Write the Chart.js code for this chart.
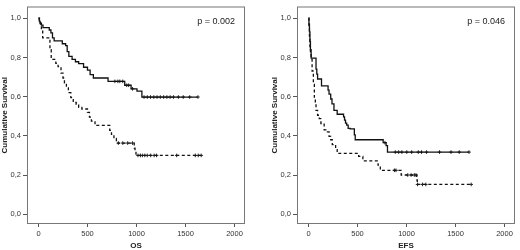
<!DOCTYPE html>
<html>
<head>
<meta charset="utf-8">
<script src="https://cdn.jsdelivr.net/npm/chart.js"></script>
<style>
  body { margin: 0; background: #fff; }
  canvas { position: absolute; top: 0; }
</style>
</head>
<body>
<canvas id="osChart" width="250" height="250" style="left:0"></canvas>
<canvas id="efsChart" width="250" height="250" style="left:270px"></canvas>
<script>
// tick labels
const xTicks = [0, 500, 1000, 1500, 2000];
const yTicks = [0, 0.2, 0.4, 0.6, 0.8, 1.0];

// OS - solid group
const osSolidT = [0, 8, 15, 30, 46, 110, 127, 143, 160, 243, 277, 293, 310, 343, 377, 410, 460, 500, 527, 560, 710, 880, 945, 1005, 1055];
const osSolidS = [1.0, 0.985, 0.975, 0.965, 0.952, 0.94, 0.925, 0.9, 0.885, 0.87, 0.86, 0.83, 0.805, 0.79, 0.778, 0.768, 0.75, 0.735, 0.712, 0.695, 0.678, 0.658, 0.64, 0.628, 0.598];
const osSolidCens = [780, 810, 830, 860, 900, 920, 960, 1077, 1110, 1143, 1177, 1210, 1243, 1277, 1310, 1343, 1377, 1427, 1477, 1543, 1627];

// OS - dashed group
const osDashT = [0, 10, 20, 30, 43, 117, 130, 177, 200, 230, 250, 265, 285, 305, 330, 355, 385, 410, 443, 500, 520, 540, 577, 727, 745, 770, 795, 977, 985, 995];
const osDashS = [1.0, 0.98, 0.96, 0.94, 0.9, 0.84, 0.79, 0.77, 0.753, 0.72, 0.695, 0.67, 0.645, 0.62, 0.595, 0.57, 0.56, 0.545, 0.537, 0.52, 0.495, 0.475, 0.453, 0.428, 0.407, 0.387, 0.363, 0.337, 0.32, 0.30];
const osDashCens = [815, 860, 910, 960, 1015, 1040, 1060, 1085, 1110, 1145, 1180, 1205, 1410, 1600, 1630, 1660];

// EFS - solid group
const efsSolidT = [0, 5, 10, 15, 20, 27, 77, 85, 93, 133, 200, 210, 227, 240, 260, 293, 358, 368, 378, 390, 405, 425, 468, 477, 762, 792, 806];
const efsSolidS = [1.0, 0.97, 0.93, 0.88, 0.84, 0.797, 0.74, 0.715, 0.69, 0.655, 0.633, 0.613, 0.588, 0.563, 0.53, 0.51, 0.497, 0.48, 0.465, 0.455, 0.438, 0.435, 0.405, 0.38, 0.365, 0.35, 0.317];
const efsSolidCens = [780, 886, 920, 953, 1003, 1053, 1120, 1153, 1204, 1337, 1454, 1538, 1638];

// EFS - dashed group
const efsDashT = [0, 5, 10, 15, 20, 27, 37, 50, 60, 70, 77, 93, 110, 127, 160, 177, 210, 227, 243, 277, 293, 512, 555, 710, 733, 946, 1105, 1110];
const efsDashS = [1.0, 0.95, 0.9, 0.85, 0.82, 0.79, 0.73, 0.663, 0.597, 0.563, 0.53, 0.505, 0.488, 0.463, 0.43, 0.42, 0.397, 0.38, 0.355, 0.33, 0.31, 0.295, 0.272, 0.25, 0.224, 0.2, 0.175, 0.152];
const efsDashCens = [877, 893, 1013, 1047, 1080, 1097, 1113, 1163, 1197, 1660];

const FONT = 'Arial, "Liberation Sans", sans-serif';

// survival value in effect at time t (step lookup)
function survAt(times, surv, t) {
    let s = surv[0];
    for (let i = 0; i < times.length; i++) {
        if (times[i] <= t) s = surv[i];
    }
    return s;
}

function kmDatasets(times, surv, cens, dash) {
    const line = times.map((t, i) => ({ x: t, y: surv[i] }));
    const lastCens = Math.max(...cens);
    if (lastCens > times[times.length - 1]) {
        line.push({ x: lastCens, y: surv[surv.length - 1] });
    }
    return [{
        data: line,
        stepped: true,
        borderColor: '#111',
        borderWidth: 1.3,
        borderDash: dash ? [3, 2.5] : [],
        pointRadius: 0,
        fill: false,
    }, {
        data: cens.map(t => ({ x: t, y: survAt(times, surv, t) })),
        showLine: false,
        pointStyle: 'cross',
        pointRadius: 1.8,
        borderColor: '#222',
        borderWidth: 1,
    }];
}

const framePlugin = {
    id: 'frame',
    afterDraw(chart, args, opts) {
        const { ctx, chartArea: a } = chart;
        ctx.save();
        ctx.strokeStyle = '#777';
        ctx.lineWidth = 1;
        ctx.strokeRect(a.left + 0.5, a.top + 0.5, a.right - a.left - 1, a.bottom - a.top - 1);
        ctx.font = '9px ' + FONT;
        ctx.fillStyle = '#222';
        ctx.textAlign = 'right';
        ctx.fillText(opts.text, a.right - 10, a.top + 17);
        ctx.restore();
    }
};

function createChart(id, xTitle, pText, datasets) {
    return new Chart(document.getElementById(id), {
        type: 'line',
        data: { datasets: datasets },
        plugins: [framePlugin],
        options: {
            responsive: false,
            animation: false,
            layout: { padding: { top: 2, right: 1, left: 0, bottom: 0 } },
            plugins: {
                legend: { display: false },
                tooltip: { enabled: false },
                frame: { text: pText },
            },
            scales: {
                x: {
                    type: 'linear',
                    min: -117,
                    max: 2107,
                    afterBuildTicks: s => { s.ticks = xTicks.map(v => ({ value: v })); },
                    afterFit: s => { s.height = 26; },
                    grid: { drawOnChartArea: false, drawTicks: true, tickLength: 3, color: '#555' },
                    border: { display: false },
                    ticks: {
                        autoSkip: false, maxRotation: 0, padding: 2, color: '#333', font: { size: 7.5, family: FONT },
                        callback: v => String(v),
                    },
                    title: { display: true, text: xTitle, padding: 0, color: '#222', font: { size: 8, weight: 'bold', family: FONT, lineHeight: 1 } },
                },
                y: {
                    min: -0.05,
                    max: 1.06,
                    afterBuildTicks: s => { s.ticks = yTicks.map(v => ({ value: v })); },
                    afterFit: s => { s.width = 27; },
                    grid: { drawOnChartArea: false, drawTicks: true, tickLength: 4, color: '#555' },
                    border: { display: false },
                    ticks: {
                        padding: 2, color: '#333', font: { size: 7.5, family: FONT },
                        callback: v => v.toFixed(1).replace('.', ','),
                    },
                    title: { display: true, text: 'Cumulative Survival', padding: 0, color: '#222', font: { size: 8, weight: 'bold', family: FONT, lineHeight: 1.2 } },
                },
            },
        },
    });
}

createChart('osChart', 'OS', 'p = 0.002', [
    ...kmDatasets(osSolidT, osSolidS, osSolidCens, false),
    ...kmDatasets(osDashT, osDashS, osDashCens, true),
]);

createChart('efsChart', 'EFS', 'p = 0.046', [
    ...kmDatasets(efsSolidT, efsSolidS, efsSolidCens, false),
    ...kmDatasets(efsDashT, efsDashS, efsDashCens, true),
]);
</script>
</body>
</html>
